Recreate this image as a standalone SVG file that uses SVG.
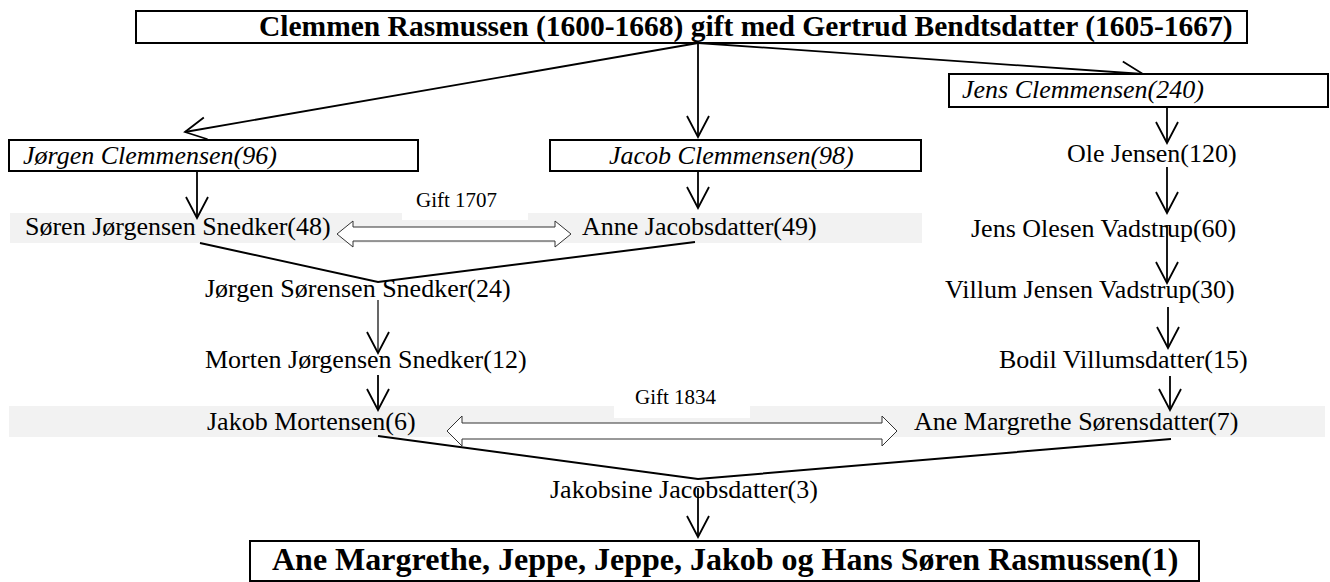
<svg xmlns="http://www.w3.org/2000/svg" width="1330" height="582" viewBox="0 0 1330 582">
<defs>
<style>
.box{fill:#fff;stroke:#000;stroke-width:2}
.band{fill:#f2f2f2;stroke:none}
.wl{fill:#fff;stroke:none}
.t{font-family:"Liberation Serif","Times New Roman",serif;font-size:26px;fill:#000}
.i{font-style:italic}
.g{font-family:"Liberation Serif","Times New Roman",serif;font-size:21px;fill:#000}
.b{font-family:"Liberation Serif","Times New Roman",serif;font-weight:bold;fill:#000}
.ln{stroke:#000;stroke-width:2;fill:none}
.arr{stroke:#000;stroke-width:1.8;fill:none;marker-end:url(#ah)}
.arrt{stroke:#000;stroke-width:1.2;fill:none;marker-end:url(#ah)}
.dbl{fill:#fff;stroke:#333;stroke-width:1}
</style>
<marker id="ah" markerUnits="userSpaceOnUse" markerWidth="26" markerHeight="26" refX="21" refY="11" orient="auto" overflow="visible">
<path d="M0,0 L21,11 L0,22" fill="none" stroke="#000" stroke-width="1.8"/>
</marker>
</defs>

<g id="bands">
<rect class="band" x="10" y="213" width="912" height="30"/>
<rect class="wl" x="402" y="195" width="126" height="25"/>
<rect class="band" x="9" y="406" width="1316" height="31"/>
<rect class="wl" x="614" y="388" width="136" height="30"/>
</g>

<g id="connectors">
<line class="arr" x1="698" y1="43" x2="185" y2="132"/>
<line class="arr" x1="698" y1="43" x2="698" y2="137"/>
<line class="arr" x1="698" y1="43" x2="1143" y2="74"/>
<line class="arr" x1="197" y1="171" x2="197" y2="218"/>
<line class="arr" x1="698" y1="171" x2="698" y2="208"/>
<line class="arr" x1="1167" y1="107" x2="1167" y2="143"/>
<line class="arr" x1="1167" y1="167" x2="1167" y2="213"/>
<line class="arr" x1="1167" y1="225" x2="1167" y2="283"/>
<line class="arr" x1="1168" y1="307" x2="1168" y2="348"/>
<line class="arr" x1="1170" y1="376" x2="1170" y2="410"/>
<line class="arrt" x1="378" y1="300" x2="378" y2="353"/>
<line class="arr" x1="378" y1="375" x2="378" y2="410"/>
<line class="arr" x1="698" y1="488" x2="698" y2="537"/>
<polyline class="ln" points="200,243 378,282 695,242"/>
<polyline class="ln" points="378,436 698,479 1171,439"/>
<path class="dbl" d="M337,234 L353,221 L353,227 L555,227 L555,221 L571,234 L555,247 L555,241 L353,241 L353,247 Z"/>
<path class="dbl" d="M447,431 L462,416 L462,423 L882,423 L882,416 L897,431 L882,446 L882,439 L462,439 L462,446 Z"/>
</g>

<g id="n-top">
<rect class="box" x="136" y="11" width="1111" height="32"/>
<text class="b" x="259" y="36" font-size="29.5">Clemmen Rasmussen (1600-1668) gift med Gertrud Bendtsdatter (1605-1667)</text>
</g>
<g id="n-jorgen">
<rect class="box" x="9" y="140" width="409" height="31"/>
<text class="t i" x="23" y="164">Jørgen Clemmensen(96)</text>
</g>
<g id="n-jacob">
<rect class="box" x="550" y="140" width="371" height="31"/>
<text class="t i" x="609" y="164">Jacob Clemmensen(98)</text>
</g>
<g id="n-jens">
<rect class="box" x="949" y="74" width="379" height="33"/>
<text class="t i" x="962" y="98">Jens Clemmensen(240)</text>
</g>
<g id="n-ole"><text class="t" x="1067" y="162">Ole Jensen(120)</text></g>
<g id="n-soren"><text class="t" x="25" y="235">Søren Jørgensen Snedker(48)</text></g>
<g id="n-anne"><text class="t" x="582" y="235">Anne Jacobsdatter(49)</text></g>
<g id="l-gift1707"><text class="g" x="416" y="207">Gift 1707</text></g>
<g id="n-jensolesen"><text class="t" x="971" y="237">Jens Olesen Vadstrup(60)</text></g>
<g id="n-jorgensoren"><text class="t" x="205" y="297">Jørgen Sørensen Snedker(24)</text></g>
<g id="n-villum"><text class="t" x="945" y="298">Villum Jensen Vadstrup(30)</text></g>
<g id="n-morten"><text class="t" x="205" y="368">Morten Jørgensen Snedker(12)</text></g>
<g id="n-bodil"><text class="t" x="999" y="368">Bodil Villumsdatter(15)</text></g>
<g id="l-gift1834"><text class="g" x="635" y="404">Gift 1834</text></g>
<g id="n-jakob"><text class="t" x="207" y="430">Jakob Mortensen(6)</text></g>
<g id="n-anemargrethe"><text class="t" x="914" y="430">Ane Margrethe Sørensdatter(7)</text></g>
<g id="n-jakobsine"><text class="t" x="550" y="498">Jakobsine Jacobsdatter(3)</text></g>
<g id="n-bottom">
<rect class="box" x="250" y="541" width="949" height="40"/>
<text class="b" x="272" y="570" font-size="32">Ane Margrethe, Jeppe, Jeppe, Jakob og Hans Søren Rasmussen(1)</text>
</g>
</svg>
